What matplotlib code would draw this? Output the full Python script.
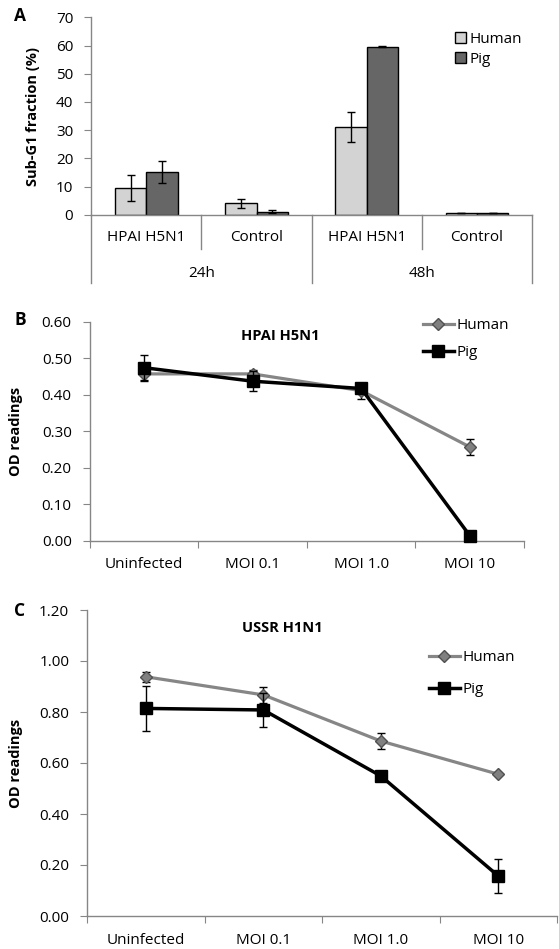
import numpy as np
import matplotlib
matplotlib.use("Agg")
import matplotlib.pyplot as plt
from matplotlib.patches import Patch

plt.rcParams['font.family'] = ['Open Sans', 'DejaVu Sans']
plt.rcParams['font.size'] = 11

# ---- data ----
a_cats = ['HPAI H5N1', 'Control', 'HPAI H5N1', 'Control']
a_groups = ['24h', '48h']
a_human = [9.4, 4.0, 31.1, 0.6]
a_human_err = [4.7, 1.6, 5.2, 0.1]
a_pig = [15.3, 1.0, 59.5, 0.6]
a_pig_err = [3.9, 0.5, 0.2, 0.1]

doses = ['Uninfected', 'MOI 0.1', 'MOI 1.0', 'MOI 10']
b_human = [0.457, 0.457, 0.411, 0.257]
b_human_err = [0.020, 0.012, 0.022, 0.023]
b_pig = [0.474, 0.437, 0.417, 0.014]
b_pig_err = [0.035, 0.027, 0.010, 0.0]

c_human = [0.938, 0.867, 0.686, 0.556]
c_human_err = [0.020, 0.030, 0.030, 0.005]
c_pig = [0.814, 0.808, 0.549, 0.157]
c_pig_err = [0.088, 0.066, 0.005, 0.065]

W, H = 559, 949
AXC = '#868686'
fig = plt.figure(figsize=(W / 100, H / 100), dpi=100)


def box(l, t, r, b):
    # pixel box -> figure fraction
    return [l / W, 1 - b / H, (r - l) / W, (b - t) / H]


def fx(x, y):
    return x / W, 1 - y / H


def style(ax):
    for s in ['top', 'right']:
        ax.spines[s].set_visible(False)
    for s in ['left', 'bottom']:
        ax.spines[s].set_color(AXC)
        ax.spines[s].set_linewidth(1)
    ax.tick_params(axis='y', direction='out', length=5, color=AXC, pad=8)


# ---- panel A ----
axA = fig.add_axes(box(91.3, 17.3, 532, 214.7))
style(axA)
x = np.arange(len(a_cats))
bw = 0.285
ekw = dict(elinewidth=1, capthick=1, ecolor='black')
axA.bar(x - bw / 2, a_human, bw, color='#d3d3d3', edgecolor='black', lw=1,
        yerr=a_human_err, capsize=3, error_kw=ekw, label='Human')
axA.bar(x + bw / 2, a_pig, bw, color='#666666', edgecolor='black', lw=1,
        yerr=a_pig_err, capsize=3, error_kw=ekw, label='Pig')
axA.set_xlim(-0.5, 3.5)
axA.set_ylim(0, 70)
axA.set_yticks(np.arange(0, 71, 10))
axA.set_xticks([])
axA.set_ylabel('Sub-G1 fraction (%)', fontweight='bold', fontsize=10.5)
axA.yaxis.set_label_coords((40 - 91.3) / (532 - 91.3), 0.5)

# two-level category axis
tr = axA.get_xaxis_transform()
for xb, yb in [(-0.5, -0.3475), (0.5, -0.175), (1.5, -0.3475), (2.5, -0.175), (3.5, -0.3475)]:
    axA.plot([xb, xb], [0, yb], transform=tr, color=AXC, lw=1, clip_on=False)
for i, c in enumerate(a_cats):
    axA.text(i, -0.1165, c, transform=tr, ha='center', va='center')
for i, g in enumerate(a_groups):
    axA.text(0.5 + 2 * i, -0.297, g, transform=tr, ha='center', va='center')

axA.legend(handles=[Patch(facecolor='#d3d3d3', edgecolor='black', label='Human'),
                    Patch(facecolor='#666666', edgecolor='black', label='Pig')],
           loc='upper left', bbox_to_anchor=fx(455, 32), bbox_transform=fig.transFigure,
           frameon=False, borderpad=0, handlelength=0.7, handleheight=0.7,
           handletextpad=0.25, labelspacing=0.3, borderaxespad=0, fontsize=11)


# ---- panels B and C ----
def line_panel(rect, human, human_err, pig, pig_err, ymax, step, title, tpos, lpos, lspace):
    ax = fig.add_axes(rect)
    style(ax)
    xs = np.arange(len(doses))
    ax.errorbar(xs, human, yerr=human_err, fmt='none', ecolor='black',
                elinewidth=1, capsize=3, capthick=1, zorder=2)
    ax.plot(xs, human, color='#868686', lw=2.3, marker='D', ms=6.5,
            mfc='#808080', mec='#505050', mew=1, label='Human', zorder=3, clip_on=False)
    ax.errorbar(xs, pig, yerr=pig_err, fmt='none', ecolor='black',
                elinewidth=1, capsize=3, capthick=1, zorder=4)
    ax.plot(xs, pig, color='black', lw=2.5, marker='s', ms=8,
            label='Pig', zorder=5, clip_on=False)
    ax.set_xlim(-0.5, 3.5)
    ax.set_ylim(0, ymax)
    yt = np.arange(0, ymax + step / 2, step)
    ax.set_yticks(yt)
    ax.set_yticklabels(['%.2f' % v for v in yt])
    ax.set_xticks(np.arange(-0.5, 4, 1))
    ax.set_xticks(xs, minor=True)
    ax.set_xticklabels(doses, minor=True)
    ax.tick_params(axis='x', which='major', direction='out', length=5,
                   color=AXC, labelbottom=False)
    ax.tick_params(axis='x', which='minor', length=0, pad=12)
    ax.set_ylabel('OD readings', fontweight='bold', fontsize=10.5)
    l_px = rect[0] * W
    w_px = rect[2] * W
    ax.yaxis.set_label_coords((23 - l_px) / w_px, 0.5)
    fig.text(*fx(*tpos), title, fontweight='bold', ha='center', va='center', fontsize=10.5)
    ax.legend(loc='upper left', bbox_to_anchor=fx(*lpos), bbox_transform=fig.transFigure,
              frameon=False, borderpad=0, borderaxespad=0, numpoints=1,
              handlelength=2.0, handletextpad=0.2, labelspacing=lspace, fontsize=11)
    return ax


line_panel(box(89.8, 321.7, 524, 540.7), b_human, b_human_err, b_pig, b_pig_err,
           0.6, 0.1, 'HPAI H5N1', (280, 336), (423, 318), 0.8)
line_panel(box(87.3, 610, 557, 916), c_human, c_human_err, c_pig, c_pig_err,
           1.2, 0.2, 'USSR H1N1', (282, 628), (429, 650), 1.12)

# panel letters
for lab, pos in [('A', (20, 16)), ('B', (20, 320)), ('C', (20, 611))]:
    fig.text(*fx(*pos), lab, fontweight='bold', fontsize=12.5, ha='center', va='center')

fig.savefig('out.png', dpi=100)
